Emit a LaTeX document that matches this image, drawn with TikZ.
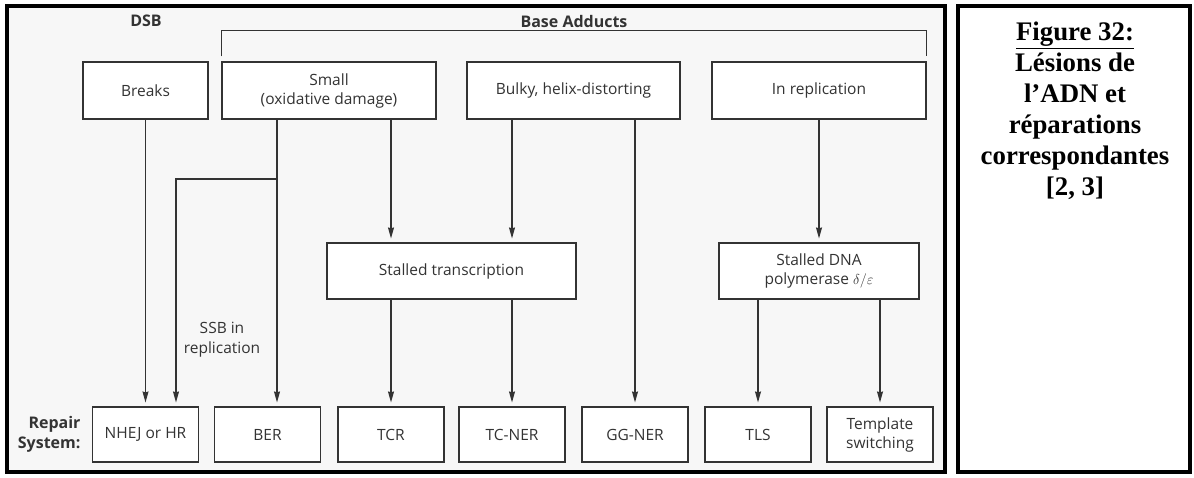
\documentclass[tikz,border=0pt]{standalone}
\usepackage{fontspec}
\setmainfont{Liberation Serif}
\setsansfont{Open Sans}
\usetikzlibrary{arrows.meta, positioning, calc}
\definecolor{inkgray}{HTML}{333333}
\definecolor{panelgray}{HTML}{F7F7F7}

\begin{document}
\begin{tikzpicture}[x=1pt, y=-1pt,
    lesion/.style={draw=inkgray, fill=white, line width=1.1pt, minimum height=57pt, align=center, inner sep=0pt, font=\sffamily\fontsize{15.5}{19}\selectfont, text=inkgray},
    repair/.style={lesion, minimum width=106pt, minimum height=55pt},
    heading/.style={font=\sffamily\bfseries\fontsize{16}{20}\selectfont, text=inkgray},
    note/.style={font=\sffamily\fontsize{15.5}{20}\selectfont, text=inkgray, align=center},
    caption/.style={font=\rmfamily\bfseries\fontsize{26.8}{31}\selectfont, align=center},
    link/.style={draw=inkgray, line width=1.1pt},
    arrow/.style={link, -{Stealth[length=11pt, width=6pt, inset=1pt]}, shorten >=4pt}
]
    \useasboundingbox (0,0) rectangle (1194,477);

    % Frames
    \draw[line width=4pt, fill=panelgray] (7,6) rectangle (945,472);
    \draw[line width=4pt, fill=white] (958,6) rectangle (1190,472);

    % Lesions
    \node[heading] (dsb) at (146,21) {DSB};
    \node[heading] (adducts) at (574,21) {Base Adducts};

    \node[lesion, minimum width=125pt] (breaks) at (145.5,90.5) {Breaks};
    \node[lesion, minimum width=214pt] (small) at (329,90.5) {Small\\(oxidative damage)};
    \node[lesion, minimum width=213pt] (bulky) at (573.5,90.5) {Bulky, helix-distorting};
    \node[lesion, minimum width=214pt] (inrep) at (819,90.5) {In replication};

    \draw[link] ([yshift=5pt]small.north west) |- (adducts.south -| inrep.east) -- ([yshift=5pt]inrep.north east);

    % Intermediates
    \node[lesion, minimum width=249pt, minimum height=56pt] (stalltx) at (451.5,271) {Stalled transcription};
    \node[lesion, minimum width=200pt, minimum height=56pt] (stallpol) at (819,271) {Stalled DNA\\polymerase $\delta/\varepsilon$};

    % Repair systems
    \node[heading, anchor=east, align=right] (system) at (84,434.5) {Repair\\System:};
    \node[repair] (nhej) at (145.5,434.5) {NHEJ or HR};
    \node[repair] (ber) at (267.5,434.5) {BER};
    \node[repair] (tcr) at (391,434.5) {TCR};
    \node[repair] (tcner) at (512,434.5) {TC-NER};
    \node[repair] (ggner) at (635,434.5) {GG-NER};
    \node[repair] (tls) at (758,434.5) {TLS};
    \node[repair] (switch) at (880,434.5) {Template\\switching};

    \node[note] (ssb) at (222,340) {SSB in\\replication};

    % Arrows
    \coordinate (ssbsplit) at (277,179);
    \coordinate (ssbturn) at (176,179);
    \draw[arrow] (breaks) -- (nhej);
    \draw[arrow] (small.south -| ssbsplit) -- (ber.north -| ssbsplit);
    \draw[arrow] (ssbsplit) -- (ssbturn) -- (nhej.north -| ssbturn);
    \draw[arrow] (small.south -| tcr) -- (stalltx.north -| tcr);
    \draw[arrow] (bulky.south -| tcner) -- (stalltx.north -| tcner);
    \draw[arrow] (bulky.south -| ggner) -- (ggner);
    \draw[arrow] (inrep) -- (stallpol);
    \draw[arrow] (stalltx.south -| tcr) -- (tcr);
    \draw[arrow] (stalltx.south -| tcner) -- (tcner);
    \draw[arrow] (stallpol.south -| tls) -- (tls);
    \draw[arrow] (stallpol.south -| switch) -- (switch);

    % Caption
    \node[caption] (legend) at (1075,111) {\underline{Figure 32:}\\Lésions de\\l’ADN et\\réparations\\correspondantes\\{}[2, 3]};
\end{tikzpicture}
\end{document}
